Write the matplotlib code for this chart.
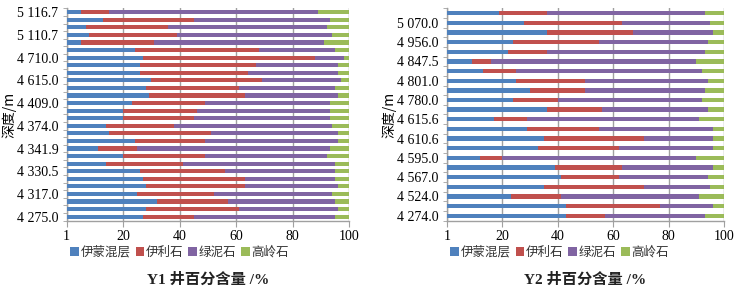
import matplotlib
import matplotlib.pyplot as plt
import numpy as np
from matplotlib.patches import Patch

matplotlib.use("Agg")

minerals = ["伊蒙混层", "伊利石", "绿泥石", "高岭石"]
colors = ["#4F81BD", "#C0504D", "#8064A2", "#9BBB59"]

# Y1 well, bars listed top -> bottom (percent of each mineral)
y1_ims = [5, 13, 7, 8, 5, 24, 27, 26, 26, 30, 28, 29, 23, 20,
          20, 14, 15, 24, 11, 20, 14, 26, 27, 28, 25, 32, 28, 27]
y1_illite = [10, 32, 29, 31, 26, 44, 61, 41, 38, 39, 33, 34, 26, 26,
             25, 24, 36, 25, 14, 29, 27, 30, 36, 35, 27, 25, 33, 18]
y1_chlorite = [74, 48, 56, 55, 60, 27, 10, 29, 32, 28, 34, 33, 44, 47,
               48, 56, 45, 47, 68, 43, 54, 39, 32, 33, 42, 38, 35, 50]
y1_kaolinite = [11, 7, 8, 6, 9, 5, 2, 4, 4, 3, 5, 4, 7, 7,
                7, 6, 4, 4, 7, 8, 5, 5, 5, 4, 6, 5, 4, 5]
# depth labels, bottom -> top, one every 3 bars
y1_depths = ["4 275.0", "4 317.0", "4 330.5", "4 341.9", "4 374.0",
             "4 409.0", "4 615.0", "4 710.0", "5 110.7", "5 116.7"]

# Y2 well, bars listed top -> bottom
y2_ims = [19, 28, 36, 24, 22, 9, 13, 25, 30, 24, 36,
          17, 29, 35, 33, 12, 39, 41, 35, 23, 43, 43]
y2_illite = [17, 35, 31, 31, 14, 7, 12, 25, 20, 16, 20,
             12, 26, 36, 29, 8, 24, 21, 36, 18, 34, 14]
y2_chlorite = [57, 32, 29, 39, 57, 74, 67, 44, 43, 52, 38,
               62, 41, 25, 34, 70, 33, 32, 24, 50, 19, 36]
y2_kaolinite = [7, 5, 4, 6, 7, 10, 8, 6, 7, 8, 6,
                9, 4, 4, 4, 10, 4, 6, 5, 9, 4, 7]
# depth labels, bottom -> top, one every 2 bars
y2_depths = ["4 274.0", "4 524.0", "4 567.0", "4 595.0", "4 610.6", "4 615.6",
             "4 780.0", "4 801.0", "4 847.5", "4 956.0", "5 070.0"]

x_ticks = [0, 20, 40, 60, 80, 100]
x_labels = ["1", "20", "40", "60", "80", "100"]

SERIF = "Liberation Serif"
MIXED = ["Liberation Serif", "Noto Sans CJK SC"]
CJK = ["Noto Sans CJK SC", "Liberation Serif"]
GRID = "#a0a0a0"
FIG_W = 736


def draw_panel(ax, series, depths, step, bar_h, title, ylabel_px):
    n = len(series[0])
    ypos = np.arange(n)[::-1]  # first value at the top
    left = np.zeros(n)
    for vals, col in zip(series, colors):
        vals = np.asarray(vals, dtype=float)
        ax.barh(ypos, vals, left=left, height=bar_h, color=col, zorder=3)
        left += vals

    ax.set_xlim(0, 100)
    ax.set_ylim(-0.5, n - 0.5)
    ax.set_xticks(x_ticks)
    ax.set_xticklabels(x_labels, fontfamily=SERIF, fontsize=10)
    ax.set_yticks(np.arange(0, n, step))
    ax.set_yticklabels(depths, fontfamily=SERIF, fontsize=10)
    ax.set_yticks(np.arange(-0.5, n, 1), minor=True)
    ax.tick_params(axis="y", which="major", length=0, pad=6)
    ax.tick_params(axis="y", which="minor", length=3, color=GRID)
    ax.tick_params(axis="x", length=4, color=GRID, pad=3)

    ax.grid(axis="x", color=GRID, linewidth=1, zorder=0)
    for side in ["top", "right"]:
        ax.spines[side].set_visible(False)
    for side in ["left", "bottom"]:
        ax.spines[side].set_color(GRID)
        ax.spines[side].set_linewidth(1)

    bb = ax.get_position()
    ax.set_ylabel("深度/m", fontfamily=CJK, fontsize=10)
    # place the label centre at a given pixel column
    ax.yaxis.set_label_coords((ylabel_px / FIG_W - bb.x0) / bb.width, 0.5)
    ax.yaxis.label.set_va("center")

    handles = [Patch(facecolor=c, edgecolor="none") for c in colors]
    leg = ax.legend(handles, minerals, loc="center left",
                    bbox_to_anchor=(-0.005, -0.15), ncol=4, frameon=False,
                    handlelength=0.7, handleheight=0.7, handletextpad=0.12,
                    columnspacing=0.4, borderaxespad=0,
                    prop={"family": CJK, "size": 9})
    for t in leg.get_texts():
        t.set_color("#333333")

    fig.text((bb.x0 + bb.x1) / 2, 0.032, title, ha="center", va="center",
             fontfamily=MIXED, fontsize=11, fontweight="bold", color="#222222")


fig = plt.figure(figsize=(7.36, 2.89), dpi=100)

ax1 = fig.add_axes([0.0906, 0.237, 0.384, 0.734])
draw_panel(ax1, [y1_ims, y1_illite, y1_chlorite, y1_kaolinite],
           y1_depths, 3, 0.55, "Y1 井百分含量 /%", 9)

ax2 = fig.add_axes([0.607, 0.237, 0.377, 0.734])
draw_panel(ax2, [y2_ims, y2_illite, y2_chlorite, y2_kaolinite],
           y2_depths, 2, 0.45, "Y2 井百分含量 /%", 389)

fig.savefig("out.png", dpi=100)
plt.close(fig)
